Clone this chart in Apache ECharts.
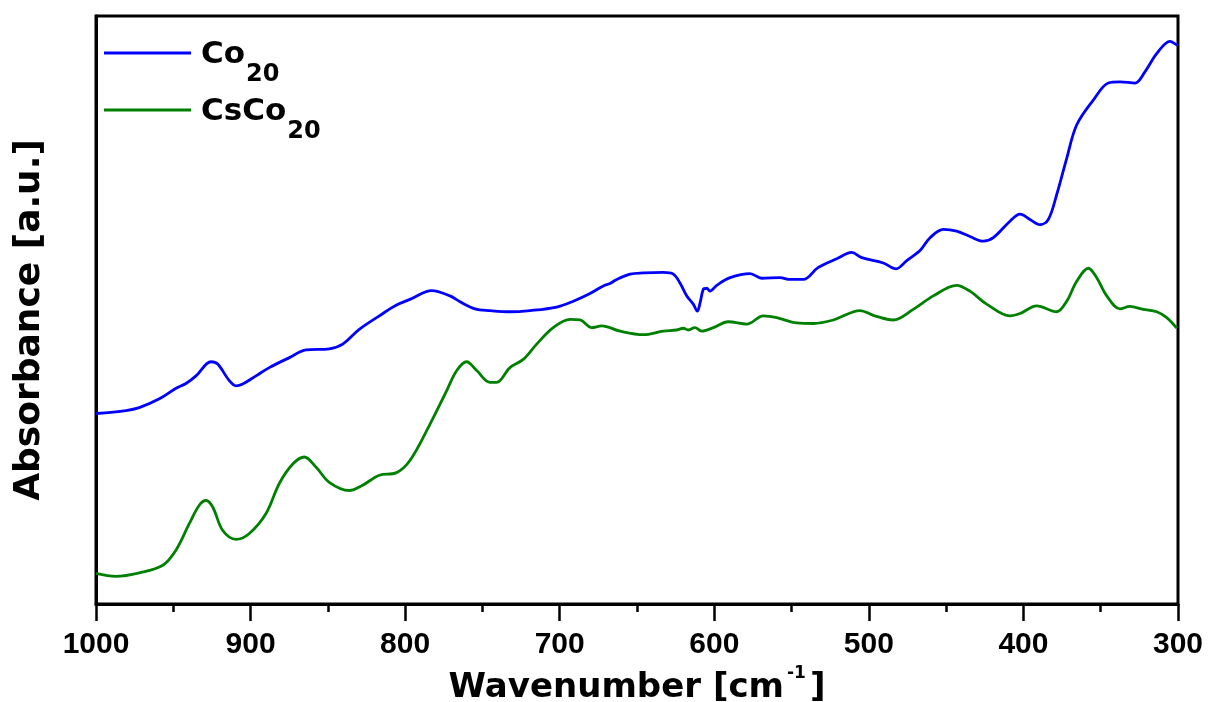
<!DOCTYPE html>
<html>
<head>
<meta charset="utf-8">
<script src="https://cdn.jsdelivr.net/npm/echarts@6/dist/echarts.min.js"></script>
<style>
html,body{margin:0;padding:0;background:#fff;}
#chart{width:1212px;height:702px;}
</style>
</head>
<body>
<div id="chart"></div>
<script>
// Wavenumber (cm^-1) values and absorbance (a.u.)
const co20Wavenumber = [1000,980.6,972.0,959.0,948.2,941.8,935.3,925.6,921.3,913.8,909.4,905.1,896.5,887.9,874.9,864.1,849.1,840.4,829.7,816.7,805.9,796.9,782.8,771.0,764.5,754.8,745.1,732.2,719.2,702.0,691.2,680.4,671.8,667.5,663.1,654.5,645.9,633.0,626.5,622.2,617.8,613.6,611.0,609.2,607.1,604.9,602.8,598.4,589.8,576.9,569.3,557.5,551.0,542.4,532.9,520.8,511.1,504.6,490.7,482.4,475.5,466.9,460.4,451.8,443.2,434.6,426.0,419.5,408.7,402.2,395.8,389.3,383.9,378.5,372.0,365.5,354.8,345.1,337.5,327.8,321.4,313.8,305.2,300.8,300];
const co20Absorbance = [0.324,0.329,0.334,0.349,0.367,0.375,0.388,0.412,0.408,0.380,0.371,0.374,0.388,0.402,0.419,0.432,0.434,0.442,0.467,0.490,0.508,0.518,0.533,0.524,0.514,0.502,0.499,0.497,0.499,0.505,0.515,0.528,0.541,0.545,0.552,0.561,0.563,0.564,0.561,0.546,0.524,0.510,0.498,0.512,0.535,0.537,0.532,0.542,0.555,0.562,0.554,0.555,0.552,0.552,0.572,0.587,0.598,0.589,0.580,0.570,0.584,0.601,0.623,0.637,0.634,0.625,0.617,0.623,0.651,0.663,0.654,0.645,0.654,0.696,0.758,0.815,0.857,0.886,0.888,0.886,0.905,0.936,0.957,0.951,0.950];

const csco20Wavenumber = [1000,987.1,972.0,956.8,948.2,939.6,933.2,928.8,924.5,918.0,909.4,900.8,890.0,881.4,872.7,865.2,857.7,849.1,836.1,827.5,816.7,805.9,796.9,783.9,773.1,766.6,760.2,753.7,745.1,740.8,732.2,723.6,714.9,704.2,693.3,686.9,679.3,672.8,661.0,645.9,633.0,624.3,620.0,616.8,612.5,608.1,600.6,590.9,579.0,568.3,559.6,546.7,535.9,523.0,505.7,497.1,484.2,471.3,458.3,443.2,434.6,423.8,408.7,402.2,391.4,378.5,372.0,365.5,358.0,352.6,346.1,337.5,331.1,322.5,313.8,307.3,300.8];
const csco20Absorbance = [0.052,0.047,0.053,0.066,0.092,0.137,0.168,0.176,0.165,0.125,0.110,0.120,0.154,0.205,0.238,0.250,0.233,0.207,0.193,0.202,0.219,0.223,0.244,0.306,0.363,0.397,0.412,0.397,0.377,0.377,0.402,0.416,0.442,0.470,0.484,0.483,0.470,0.473,0.464,0.458,0.464,0.466,0.469,0.466,0.470,0.464,0.470,0.480,0.476,0.490,0.487,0.478,0.477,0.483,0.499,0.491,0.483,0.501,0.524,0.542,0.532,0.510,0.490,0.494,0.507,0.497,0.515,0.549,0.571,0.555,0.524,0.502,0.506,0.501,0.497,0.487,0.469];

const xTickMin = 300, xTickMax = 1000, xTickStep = 100;
const seriesNames = ['Co20', 'CsCo20'];
const seriesColors = ['#0000ff', '#008000'];

const FONT = "'Liberation Sans', Arial, sans-serif";
const WIDE = "'DejaVu Sans', 'Liberation Sans', sans-serif";

function pairs(xs, ys) { return xs.map((x, i) => [x, ys[i]]); }

const legendRich = {
  m: { fontSize: 31, fontWeight: 'bold', fontFamily: WIDE, color: '#000', lineHeight: 31, verticalAlign: 'top' },
  s: { fontSize: 24, fontWeight: 'bold', fontFamily: WIDE, color: '#000', lineHeight: 24, verticalAlign: 'top', padding: [23, 0, 0, 1] }
};
function legendFmt(name) {
  return name === 'Co20' ? '{m|Co}{s|20}' : '{m|CsCo}{s|20}';
}
function makeLegend(name, top) {
  return {
    data: [name],
    left: 104, top: top, padding: 0,
    icon: 'rect',
    itemWidth: 87, itemHeight: 3,
    formatter: legendFmt,
    textStyle: { rich: legendRich, padding: [4, 0, 0, 5] },
    selectedMode: false
  };
}

const chart = echarts.init(document.getElementById('chart'), null, { renderer: 'canvas' });
chart.setOption({
  animation: false,
  backgroundColor: '#fff',
  grid: { left: 96, right: 34, top: 16, bottom: 98, outerBoundsMode: 'none', containLabel: false,
          show: true, borderColor: '#000', borderWidth: 3, backgroundColor: 'transparent' },
  legend: [makeLegend('Co20', 39.5), makeLegend('CsCo20', 96.5)],
  xAxis: {
    type: 'value', inverse: true,
    min: xTickMin, max: xTickMax, interval: xTickStep,
    name: '{a|Wavenumber [cm}{b|-1}{a|]}',
    nameLocation: 'middle', nameGap: 58,
    nameTextStyle: {
      rich: {
        a: { fontSize: 34, fontWeight: 'bold', fontFamily: WIDE, color: '#000', lineHeight: 40, verticalAlign: 'bottom' },
        b: { fontSize: 17, fontWeight: 'bold', fontFamily: WIDE, color: '#000', lineHeight: 16, verticalAlign: 'top', padding: [0, 4, 0, 3] }
      }
    },
    axisLine: { show: true, onZero: false, lineStyle: { color: '#000', width: 3 } },
    axisTick: { show: true, inside: false, length: 17, lineStyle: { color: '#000', width: 2.5 } },
    minorTick: { show: true, splitNumber: 2, length: 8, lineStyle: { color: '#000', width: 2.5 } },
    axisLabel: { fontSize: 30, fontWeight: 'bold', fontFamily: FONT, color: '#000', margin: 26,
                 formatter: v => String(v) },
    splitLine: { show: false }
  },
  yAxis: {
    type: 'value', min: 0, max: 1,
    name: 'Absorbance [a.u.]',
    nameLocation: 'middle', nameGap: 48,
    nameTextStyle: { fontSize: 36, fontWeight: 'bold', fontFamily: WIDE, color: '#000', padding: [0, 20, 0, 0] },
    axisLine: { show: true, lineStyle: { color: '#000', width: 3 } },
    axisTick: { show: false },
    axisLabel: { show: false },
    splitLine: { show: false }
  },
  series: [
    { name: seriesNames[0], type: 'line', data: pairs(co20Wavenumber, co20Absorbance), showSymbol: false, symbol: 'none', smooth: 0.35,
      lineStyle: { color: seriesColors[0], width: 2.8 }, itemStyle: { color: seriesColors[0] } },
    { name: seriesNames[1], type: 'line', data: pairs(csco20Wavenumber, csco20Absorbance), showSymbol: false, symbol: 'none', smooth: 0.35,
      lineStyle: { color: seriesColors[1], width: 2.8 }, itemStyle: { color: seriesColors[1] } }
  ]
});
</script>
</body>
</html>
